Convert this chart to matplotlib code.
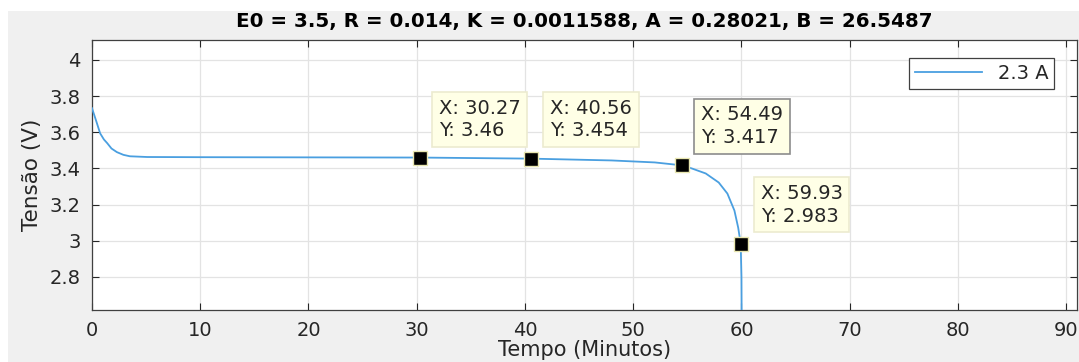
import matplotlib
matplotlib.use("Agg")
import matplotlib.pyplot as plt
from matplotlib.patches import Rectangle
import numpy as np

# curve (time in minutes, voltage in V)
TEMPO = [0, 0.4, 0.75, 1.1, 1.4, 1.8, 2.3, 2.9, 3.5, 5.1, 10, 20, 30.27,
         40.56, 48, 52, 54.49, 55.4, 56.7, 57.9, 58.7, 59.35, 59.7, 59.93,
         60.0, 60.02]
TENSAO = [3.733, 3.66, 3.594, 3.56, 3.54, 3.51, 3.49, 3.475, 3.467, 3.463,
          3.462, 3.461, 3.46, 3.454, 3.444, 3.433, 3.417, 3.40, 3.372, 3.322,
          3.261, 3.167, 3.072, 2.983, 2.80, 2.55]

TIP_X = [30.27, 40.56, 54.49, 59.93]
TIP_Y = [3.46, 3.454, 3.417, 2.983]
TIP_LABELS = ["X: 30.27\nY: 3.46", "X: 40.56\nY: 3.454",
              "X: 54.49\nY: 3.417", "X: 59.93\nY: 2.983"]

TITLE = "E0 = 3.5, R = 0.014, K = 0.0011588, A = 0.28021, B = 26.5487"
X_TICKS = np.arange(0, 91, 10)
Y_TICKS = [2.8, 3.0, 3.2, 3.4, 3.6, 3.8, 4.0]
Y_TICKLABELS = ["2.8", "3", "3.2", "3.4", "3.6", "3.8", "4"]

W, H = 1079, 362
TXT = "#262626"

plt.rcParams.update({"font.family": "DejaVu Sans"})

fig = plt.figure(figsize=(W / 100, H / 100), dpi=100)
fig.patch.set_facecolor("white")
fig.patches.append(Rectangle((8 / W, 0), 1, 1 - 11 / H, transform=fig.transFigure,
                             facecolor="#f0f0f0", edgecolor="none", zorder=-10))

ax = fig.add_axes([92 / W, (H - 310) / H, (1077 - 92) / W, (310 - 40) / H])
ax.plot(TEMPO, TENSAO, color="#4a9fe0", linewidth=1.3, label="2.3 A", zorder=3)
ax.plot(TIP_X, TIP_Y, linestyle="none", marker="s", markersize=10,
        markerfacecolor="black", markeredgecolor="#e8e6b0", markeredgewidth=1.0,
        zorder=4)

offsets = [(19, 59), (19, 60), (19, 60), (20, 60)]
edges = ["#ecebd0", "#ecebd0", "#8c8c8c", "#ecebd0"]
for x, y, label, off, ec in zip(TIP_X, TIP_Y, TIP_LABELS, offsets, edges):
    ax.annotate(label, xy=(x, y), xytext=off, textcoords="offset pixels",
                ha="left", va="top", fontsize=14, color=TXT, linespacing=1.25,
                bbox=dict(boxstyle="square,pad=0.35", facecolor="#ffffe6",
                          edgecolor=ec, linewidth=1.2), zorder=5)

ax.set_xlim(0, 91)
ax.set_ylim(2.617, 4.11)
ax.set_xticks(X_TICKS)
ax.set_yticks(Y_TICKS)
ax.set_yticklabels(Y_TICKLABELS)
ax.tick_params(direction="in", length=5, width=0.8, colors=TXT, labelsize=14,
               top=True, right=True, pad=8)
ax.grid(True, color="#e3e3e3", linewidth=0.9)
ax.set_axisbelow(True)
for spine in ax.spines.values():
    spine.set_color("#404040")
    spine.set_linewidth(0.9)

ax.set_title(TITLE, fontsize=14.3, fontweight="bold", color="black", pad=9)
ax.set_xlabel("Tempo (Minutos)", fontsize=15, color=TXT, labelpad=0)
ax.set_ylabel("Tensão (V)", fontsize=15.5, color=TXT, labelpad=6)

leg = ax.legend(loc="upper right", bbox_to_anchor=(0.977, 0.933), fontsize=14,
                fancybox=False, framealpha=1, edgecolor="#404040",
                handlelength=3.45, borderpad=0.3, borderaxespad=0)
leg.get_frame().set_linewidth(0.9)
for t in leg.get_texts():
    t.set_color(TXT)

fig.savefig("out.png", dpi=100)
